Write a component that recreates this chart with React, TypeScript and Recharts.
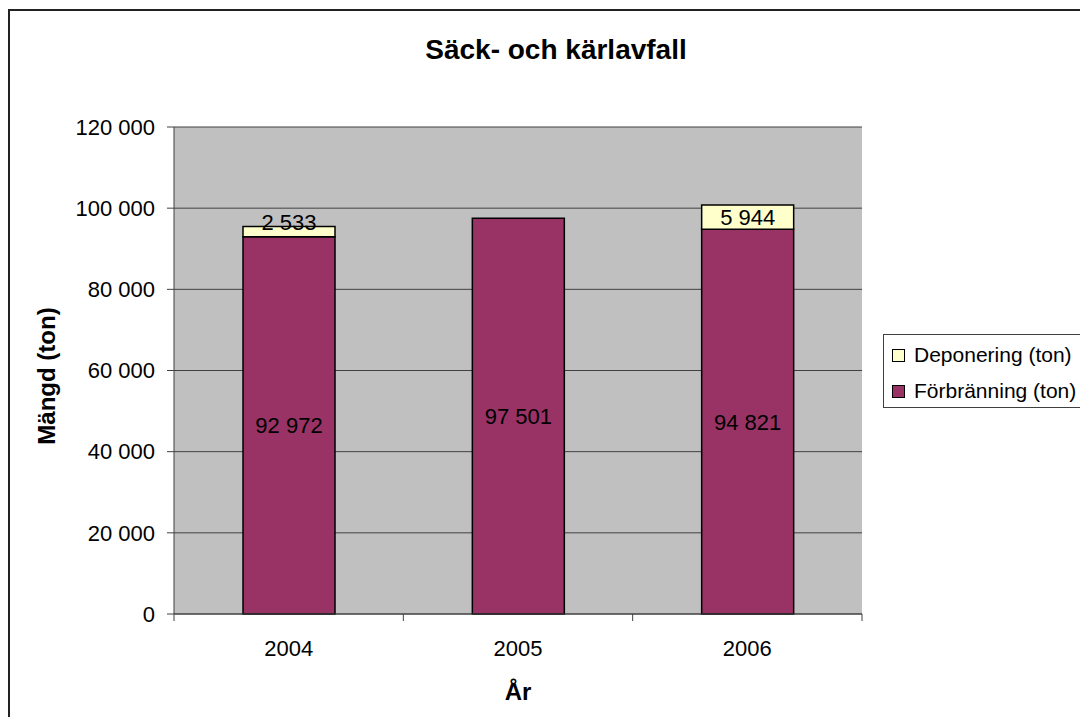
import { BarChart, Bar, XAxis, YAxis, CartesianGrid, LabelList } from 'recharts'

// Säck- och kärlavfall, ton per år
const years = ['2004', '2005', '2006']
const forbranning = [92972, 97501, 94821]
const deponering: (number | null)[] = [2533, null, 5944]
const yTicks = [0, 20000, 40000, 60000, 80000, 100000, 120000]

const data = years.map((year, i) => ({
  year,
  forbranning: forbranning[i],
  deponering: deponering[i],
}))

const FONT = '"Liberation Sans", Arial, Helvetica, sans-serif'
const W = 1072
const H = 709
const margin = { top: 119, right: 218, bottom: 0, left: 0 }
const Y_AXIS_W = 166
const X_AXIS_H = 103
const PLOT_W = W - margin.left - margin.right - Y_AXIS_W
const LINE = '#404040'

const PURPLE = '#993366'
const YELLOW = '#FFFFCC'

const series = [
  { key: 'deponering', name: 'Deponering (ton)', color: YELLOW },
  { key: 'forbranning', name: 'Förbränning (ton)', color: PURPLE },
]

const fmt = (v: number) => String(v).replace(/\B(?=(\d{3})+(?!\d))/g, ' ')

const XTick = (props: any) => {
  const { x, y, payload, index } = props
  const half = PLOT_W / years.length / 2
  return (
    <g>
      <line x1={x - half} x2={x - half} y1={y} y2={y + 7} stroke={LINE} />
      {index === years.length - 1 && (
        <line x1={x + half} x2={x + half} y1={y} y2={y + 7} stroke={LINE} />
      )}
      <text x={x} y={y + 42} textAnchor="middle" fontSize={22} fill="#000" fontFamily={FONT}>
        {payload.value}
      </text>
    </g>
  )
}

const segmentLabel = (props: any) => {
  const { x, y, width, height, value } = props
  if (!value) return null
  // thin segments get their label pushed up above the middle
  const cy = height < 20 ? y + height - 15 : y + height / 2
  return (
    <text x={x + width / 2} y={cy} dy="0.36em" textAnchor="middle" fontSize={22} fill="#000" fontFamily={FONT}>
      {fmt(value)}
    </text>
  )
}

export default function App() {
  return (
    <div style={{ position: 'relative', width: W, height: H, overflow: 'hidden', fontFamily: FONT }}>
      <div
        style={{
          position: 'absolute', left: 0, top: 1, width: 1200, height: 800,
          border: '2px solid #222', pointerEvents: 'none',
        }}
      />
      <div style={{ position: 'absolute', left: 0, top: 0 }}>
        <BarChart width={W} height={H} data={data} margin={margin}>
          <text x={548} y={51} textAnchor="middle" fontSize={28} fontWeight="bold" fill="#000" fontFamily={FONT}>
            Säck- och kärlavfall
          </text>
          <CartesianGrid fill="#C0C0C0" stroke={LINE} vertical={false} />
          <XAxis
            dataKey="year"
            height={X_AXIS_H}
            axisLine={{ stroke: LINE }}
            tickLine={false}
            tickSize={0}
            tickMargin={0}
            tick={<XTick />}
            label={{
              content: (p: any) => {
                const vb = p.viewBox || { x: 166, width: PLOT_W, y: 606 }
                return (
                  <text x={vb.x + vb.width / 2} y={vb.y + 86} textAnchor="middle" fontSize={24} fontWeight="bold" fill="#000" fontFamily={FONT}>
                    År
                  </text>
                )
              },
            }}
          />
          <YAxis
            width={Y_AXIS_W}
            domain={[0, 120000]}
            ticks={yTicks}
            tickFormatter={fmt}
            tickSize={7}
            tickMargin={12}
            axisLine={{ stroke: LINE }}
            tickLine={{ stroke: LINE }}
            tick={{ fontSize: 22, fill: '#000', fontFamily: FONT }}
            label={{
              content: () => (
                <text transform="translate(47,368) rotate(-90)" textAnchor="middle" fontSize={24} fontWeight="bold" fill="#000" fontFamily={FONT}>
                  Mängd (ton)
                </text>
              ),
            }}
          />
          <YAxis yAxisId="edge" orientation="right" width={0} tick={false} tickLine={false} axisLine={{ stroke: LINE }} />
          <Bar dataKey="forbranning" name="Förbränning (ton)" stackId="a" fill={PURPLE} stroke="#000" strokeWidth={1.5} barSize={92} isAnimationActive={false}>
            <LabelList dataKey="forbranning" content={segmentLabel} />
          </Bar>
          <Bar dataKey="deponering" name="Deponering (ton)" stackId="a" fill={YELLOW} stroke="#000" strokeWidth={1.5} barSize={92} isAnimationActive={false}>
            <LabelList dataKey="deponering" content={segmentLabel} />
          </Bar>
        </BarChart>
      </div>
      <div
        style={{
          position: 'absolute', left: 875, top: 326, width: 260, height: 74,
          border: `1px solid ${LINE}`, background: '#fff', boxSizing: 'border-box',
        }}
      >
        {series.map((s, i) => (
          <div key={s.key} style={{ position: 'absolute', left: 0, top: 20 + i * 36 - 13, height: 26, display: 'flex', alignItems: 'center' }}>
            <span
              style={{
                display: 'inline-block', width: 11, height: 11, marginLeft: 8,
                background: s.color, border: '1px solid #000',
              }}
            />
            <span style={{ marginLeft: 9, fontSize: 21, lineHeight: '26px', whiteSpace: 'nowrap', color: '#000' }}>{s.name}</span>
          </div>
        ))}
      </div>
    </div>
  )
}
